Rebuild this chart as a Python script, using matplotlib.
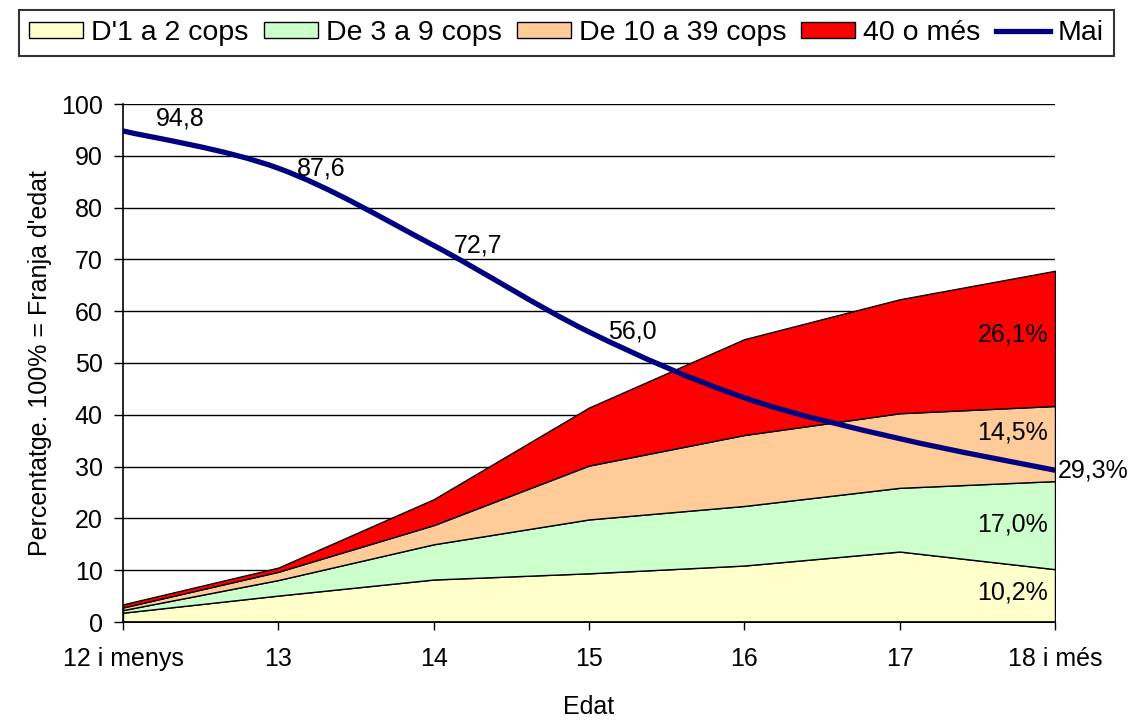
import numpy as np
import matplotlib
matplotlib.use("Agg")
import matplotlib.pyplot as plt
from matplotlib.path import Path
from matplotlib.patches import PathPatch, Patch
from matplotlib.lines import Line2D

plt.rcParams["font.family"] = ["Liberation Sans", "DejaVu Sans"]

edats = ["12 i menys", "13", "14", "15", "16", "17", "18 i més"]
d1_2 = [1.8, 5.1, 8.2, 9.4, 10.9, 13.6, 10.2]
d3_9 = [0.5, 3.0, 6.8, 10.4, 11.5, 12.3, 17.0]
d10_39 = [0.5, 1.6, 3.7, 10.4, 13.7, 14.4, 14.5]
d40 = [0.6, 0.8, 5.0, 11.2, 18.5, 22.0, 26.1]
mai = [94.8, 87.6, 72.7, 56.0, 43.3, 35.4, 29.3]

noms = ["D'1 a 2 cops", "De 3 a 9 cops", "De 10 a 39 cops", "40 o més"]
colors = ["#FFFFCC", "#CCFFCC", "#FFCC99", "#FF0000"]
NAVY = "#000080"
FS = 18

fig = plt.figure(figsize=(11.33, 7.21), dpi=100)
ax = fig.add_axes([123 / 1133, 99 / 721, (1055 - 123) / 1133, (622 - 104) / 721])

x = np.arange(len(edats))
capes = [d1_2, d3_9, d10_39, d40]
ax.stackplot(x, *capes, colors=colors, edgecolor="black", linewidth=1.0, zorder=2)


# corba suavitzada tipus Excel (Bezier pels punts)
def smooth_path(xs, ys):
    pts = np.column_stack([xs, ys]).astype(float)
    ext = np.vstack([pts[0], pts, pts[-1]])
    verts = [pts[0]]
    codes = [Path.MOVETO]
    for i in range(len(pts) - 1):
        p0, p1, p2, p3 = ext[i], ext[i + 1], ext[i + 2], ext[i + 3]
        verts += [p1 + (p2 - p0) / 6, p2 - (p3 - p1) / 6, p2]
        codes += [Path.CURVE4] * 3
    return Path(verts, codes)


ax.add_patch(PathPatch(smooth_path(x, mai), fill=False, edgecolor=NAVY,
                       linewidth=3.8, capstyle="round", zorder=4))

# etiquetes de la línia (px -> pt)
offs = [(33, 12), (19, 0), (20, 0), (19, 0)]
for i, (dx, dy) in enumerate(offs):
    ax.annotate(f"{mai[i]:.1f}".replace(".", ","), (x[i], mai[i]),
                xytext=(dx * 0.72, dy * 0.72), textcoords="offset points",
                ha="left", va="center", fontsize=FS, zorder=5)
ax.annotate(f"{mai[-1]:.1f}%".replace(".", ","), (x[-1], mai[-1]),
            xytext=(3 * 0.72, 0), textcoords="offset points",
            ha="left", va="center", fontsize=FS, annotation_clip=False, zorder=5)

# etiquetes de les àrees a l'última edat
cum = np.cumsum([c[-1] for c in capes])
dys = [3, 1, 11, 4]
for k, c in enumerate(capes):
    mid = cum[k] - c[-1] / 2
    ax.annotate(f"{c[-1]:.1f}%".replace(".", ","), (x[-1], mid),
                xytext=(-7 * 0.72, dys[k] * 0.72), textcoords="offset points",
                ha="right", va="center", fontsize=FS, zorder=5)

ax.set_xlim(0, len(edats) - 1)
ax.set_ylim(0, 100)
ax.set_yticks(np.arange(0, 101, 10))
ax.set_xticks(x)
ax.set_xticklabels(edats)
ax.yaxis.grid(True, color="black", linewidth=1.0)
ax.set_axisbelow(True)
for s in ["top", "right"]:
    ax.spines[s].set_visible(False)
for s in ["left", "bottom"]:
    ax.spines[s].set_linewidth(1.2)
ax.tick_params(axis="y", direction="out", length=6.5, width=1, pad=8, labelsize=FS)
ax.tick_params(axis="x", direction="out", length=6, width=1, pad=12, labelsize=FS)
ax.set_ylabel("Percentatge. 100% = Franja d'edat", fontsize=FS, labelpad=6.5)
ax.set_xlabel("Edat", fontsize=FS, labelpad=17)

handles = [Patch(facecolor=c, edgecolor="black", linewidth=1.0) for c in colors]
handles.append(Line2D([], [], color=NAVY, linewidth=3.8))
leg = fig.legend(handles, noms + ["Mai"], loc="upper center",
                 bbox_to_anchor=(0.5, 1 - 10 / 721), ncol=5, fontsize=20.5,
                 frameon=True, fancybox=False, edgecolor="black",
                 handlelength=1.9, handleheight=0.46, handletextpad=0.28,
                 columnspacing=0.53, borderpad=0.35, borderaxespad=0)
leg.get_frame().set_linewidth(1.5)

fig.savefig("out.png", dpi=100)
